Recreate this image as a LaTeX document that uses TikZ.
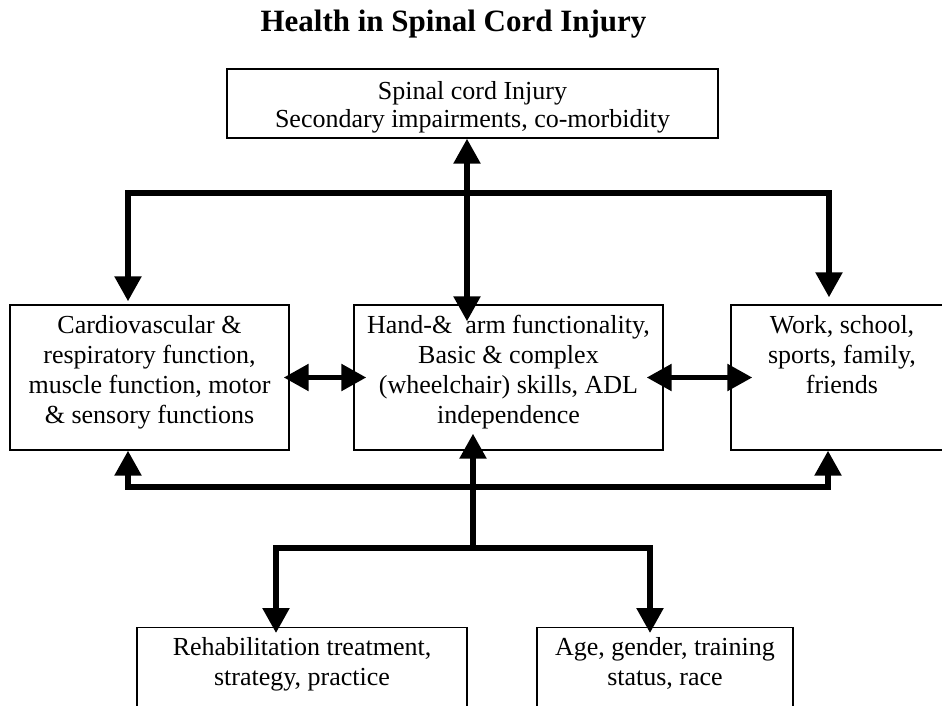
\documentclass[tikz,border=0pt]{standalone}
\usepackage{fontspec}
\setmainfont{Liberation Serif}
\usetikzlibrary{arrows.meta}
\newcommand{\hgt}[1]{\rule{0pt}{#1}}
\newcommand{\dpt}[1]{\rule[-#1]{0pt}{#1}}

\begin{document}
\begin{tikzpicture}[x=0.5pt,y=-0.5pt,>={Triangle[length=12.5pt,width=13pt]},
    box/.style={draw,line width=0.7pt,align=center,inner sep=0pt,font=\fontsize{13}{15}\selectfont},
    bus/.style={line width=2.75pt}]

            \useasboundingbox (0,0) rectangle (942,706);
            \clip (0,0) rectangle (942,706);

            \node[anchor=base,font=\fontsize{15.5}{18}\selectfont\bfseries] (title) at (453.5,32) {Health in Spinal Cord Injury};

            \node[box,minimum width=245.5pt,minimum height=34.5pt,font=\fontsize{13}{14}\selectfont] (sci) at (472.5,103.5) {\hgt{13.3pt}Spinal cord Injury\\Secondary impairments, co-morbidity};
            \node[box,minimum width=139.5pt,minimum height=72.5pt] (body) at (149.5,377.5) {Cardiovascular \&\\respiratory function,\\muscle function, motor\\\& sensory functions\dpt{8.4pt}};
            \node[box,minimum width=154.5pt,minimum height=72.5pt] (hand) at (508.5,377.5) {Hand-\&\ \ arm functionality,\\Basic \& complex\\(wheelchair) skills, ADL\\independence\dpt{8.4pt}};
            \node[box,minimum width=111pt,minimum height=72.5pt] (work) at (842,377.5) {Work, school,\\sports, family,\\friends\dpt{23.4pt}};
            \node[box,anchor=north,minimum width=165pt,minimum height=50pt] (rehab) at (302,627) {Rehabilitation treatment,\\strategy, practice\dpt{15.9pt}};
            \node[box,anchor=north,minimum width=128pt,minimum height=50pt] (age) at (665,627) {Age, gender, training\\status, race\dpt{15.9pt}};

            % bends of the arrow lines
            \coordinate (tl) at (128,193);
            \coordinate (tr) at (829,193);
            \coordinate (mt) at (467,193);
            \coordinate (bl) at (128,487);
            \coordinate (br) at (828,487);
            \coordinate (mb) at (473,548);
            \coordinate (ll) at (276,548);
            \coordinate (lr) at (650,548);

            \draw[bus,<->,shorten <=1.5pt,shorten >=3.5pt] (body.north -| tl) -- (tl) -- (tr) -- (work.north -| tr);
            \draw[bus,<->,shorten >=-8.5pt] (sci.south -| mt) -- (hand.north -| mt);
            \draw[bus,<->,shorten <=-3pt,shorten >=-6.5pt] (body.east) -- (hand.west);
            \draw[bus,<->,shorten <=-8.5pt,shorten >=-11pt] (hand.east) -- (work.west);
            \draw[bus,<->] (body.south -| bl) -- (bl) -- (br) -- (work.south -| br);
            \draw[bus,->,shorten >=-8.5pt] (mb) -- (hand.south -| mb);
            \draw[bus,<->,shorten <=-3pt,shorten >=-3pt] (rehab.north -| ll) -- (ll) -- (lr) -- (age.north -| lr);

        \end{tikzpicture}
\end{document}
